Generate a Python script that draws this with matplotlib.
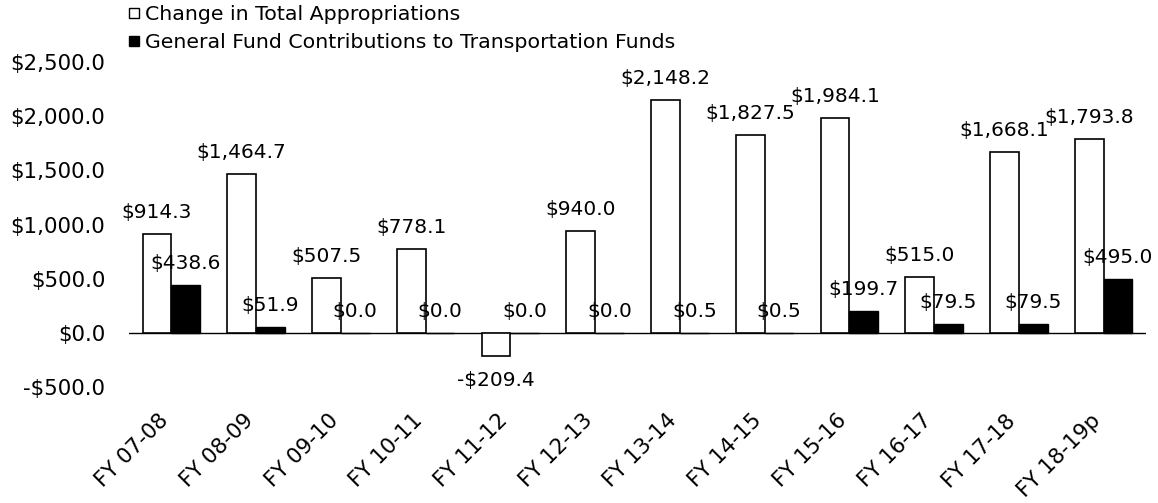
import numpy as np
import matplotlib
matplotlib.use("Agg")
import matplotlib.pyplot as plt
import matplotlib.transforms as mtransforms
from matplotlib.lines import Line2D

# Data ($ millions)
years = ["FY 07-08", "FY 08-09", "FY 09-10", "FY 10-11", "FY 11-12", "FY 12-13",
         "FY 13-14", "FY 14-15", "FY 15-16", "FY 16-17", "FY 17-18", "FY 18-19p"]
total_approp = [914.3, 1464.7, 507.5, 778.1, -209.4, 940.0,
                2148.2, 1827.5, 1984.1, 515.0, 1668.1, 1793.8]
gf_contrib = [438.6, 51.9, 0.0, 0.0, 0.0, 0.0,
              0.5, 0.5, 199.7, 79.5, 79.5, 495.0]
series_names = ["Change in Total Appropriations",
                "General Fund Contributions to Transportation Funds"]


def money(v):
    if v < 0:
        return "-${:,.1f}".format(-v)
    return "${:,.1f}".format(v)


def label_bars(ax, xs, vals):
    for x, v in zip(xs, vals):
        if v < 0:
            ax.annotate(money(v), (x, v), xytext=(0, -11), textcoords="offset points",
                        ha="center", va="top", fontsize=14.5)
        else:
            ax.annotate(money(v), (x, v), xytext=(0, 11.5), textcoords="offset points",
                        ha="center", va="baseline", fontsize=14.5)


plt.rcParams['font.family'] = ['DejaVu Sans']

fig = plt.figure(figsize=(11.58, 5.03), dpi=100)
ax = fig.add_axes([129 / 1158, 1 - 387 / 503, (1146 - 129) / 1158, (387 - 62) / 503])

index = np.arange(len(years))
bar_width = 0.34

ax.bar(index - bar_width / 2, total_approp, bar_width, color="white",
       edgecolor="black", linewidth=1.2)
ax.bar(index + bar_width / 2, gf_contrib, bar_width, color="black",
       edgecolor="black", linewidth=1.0)
ax.axhline(0, color="black", linewidth=1.0, zorder=0.5)

label_bars(ax, index - bar_width / 2, total_approp)
label_bars(ax, index + bar_width / 2, gf_contrib)

ax.set_xlim(-0.5, len(years) - 0.5)
ax.set_ylim(-500, 2500)
ax.set_yticks(np.arange(-500, 2501, 500))
ax.set_yticklabels([money(v) for v in np.arange(-500, 2501, 500)], fontsize=15.4)
ax.set_xticks(index)
ax.set_xticklabels(years, fontsize=15.4, rotation=45, ha="right", va="center",
                   rotation_mode="anchor")
ax.tick_params(axis="y", length=0, pad=17)
ax.tick_params(axis="x", length=0, pad=22)
# nudge the slanted labels a little left
shift = mtransforms.ScaledTranslation(-6 / 100, 0, fig.dpi_scale_trans)
for lbl in ax.get_xticklabels():
    lbl.set_transform(lbl.get_transform() + shift)
for s in ax.spines.values():
    s.set_visible(False)

# legend sits above the plot area
handles = [Line2D([], [], linestyle="none", marker="s", markersize=6.5,
                  markerfacecolor="white", markeredgecolor="black", markeredgewidth=1.0),
           Line2D([], [], linestyle="none", marker="s", markersize=7.5,
                  markerfacecolor="black", markeredgecolor="black")]
fig.legend(handles, series_names, loc="upper left", bbox_to_anchor=(128 / 1158, 1 - 5 / 503),
           frameon=False, fontsize=14.75, handlelength=0.55, handletextpad=0.3,
           labelspacing=0.45, borderpad=0, borderaxespad=0)

plt.savefig("out.png", dpi=100)
